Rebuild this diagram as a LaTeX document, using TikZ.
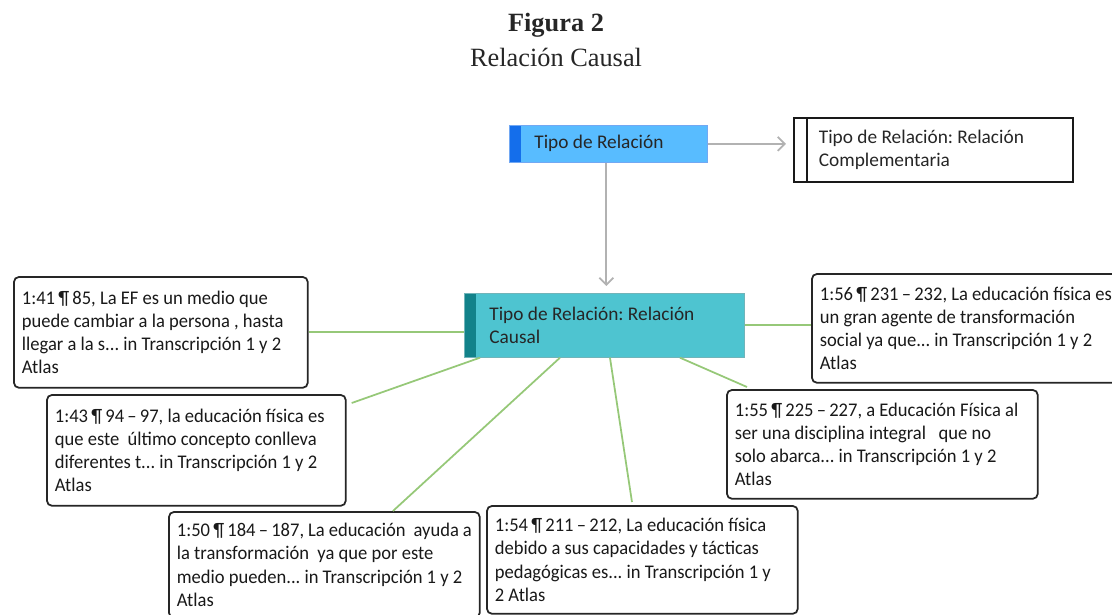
\documentclass[tikz,border=0pt]{standalone}
\usepackage{fontspec}
\setmainfont{Carlito}
\newfontfamily\quotefont{Carlito}[FakeStretch=0.96]
\newfontfamily\titlefont{Liberation Serif}
\usetikzlibrary{arrows.meta}
\frenchspacing
\newcommand\pil{\,¶\,}
\newcommand\dsh{\,–\,}
\definecolor{relblue}{RGB}{88,188,255}
\definecolor{relstrip}{RGB}{20,110,235}
\definecolor{causalfill}{RGB}{78,196,208}
\definecolor{causalstrip}{RGB}{18,130,138}
\definecolor{linkgreen}{RGB}{150,200,120}
\tikzset{
  quote/.style={draw=black!85,line width=1pt,rounded corners=3pt,fill=white,
    anchor=north west,align=flush left,inner xsep=0.16cm,text width=#1,
    font=\quotefont\fontsize{11}{13.2}\selectfont,text=black!90},
  head/.style={anchor=north west,align=flush left,inner xsep=0.5cm,text width=#1,
    font=\fontsize{11}{13.2}\selectfont,text=black!85},
  link/.style={linkgreen,line width=1pt},
  flow/.style={black!30,line width=1pt,-{Straight Barb[length=4pt,width=8pt]}}
}
\begin{document}
\begin{tikzpicture}[x=0.02cm,y=-0.02cm]
  \useasboundingbox (0,0) rectangle (1112,615);
  \node [font=\titlefont\fontsize{15}{18}\selectfont\bfseries,text=black!85] (fig) at (556,25) {Figura 2};
  \node [font=\titlefont\fontsize{15}{18}\selectfont,text=black!85] (title) at (556,57) {Relación Causal};

  \node [head=2.96cm,fill=relblue,draw=relstrip!60,minimum height=0.74cm,
    path picture={\fill[relstrip] (path picture bounding box.north west) rectangle ([xshift=0.24cm]path picture bounding box.south west);}]
    (rel) at (509,125) {Tipo de Relación};
  \node [head=4.58cm,draw=black!90,line width=1pt,minimum height=1.28cm,
    path picture={\draw[black!90,line width=1pt] ([xshift=0.26cm]path picture bounding box.north west) -- ([xshift=0.26cm]path picture bounding box.south west);}]
    (comp) at (793,117) {Tipo de Relación: Relación\\Complementaria};
  \node [head=4.6cm,fill=causalfill,draw=causalstrip!60,minimum height=1.28cm,
    path picture={\fill[causalstrip] (path picture bounding box.north west) rectangle ([xshift=0.24cm]path picture bounding box.south west);}]
    (causal) at (464,293) {Tipo de Relación: Relación\\Causal};

  \node [quote=5.56cm,minimum height=2.22cm] (q41) at (13,276)
    {1:41\pil 85, La EF es un medio que\\puede cambiar a la persona , hasta\\llegar a la s... in Transcripción 1 y 2\\Atlas};
  \node [quote=5.66cm,minimum height=2.22cm] (q43) at (46,394)
    {1:43\pil 94\dsh 97, la educación física es\\que este\ \ último concepto conlleva\\diferentes t... in Transcripción 1 y 2\\Atlas};
  \node [quote=5.9cm,minimum height=2.12cm] (q50) at (168,511)
    {1:50\pil 184\dsh 187, La educación\ \ ayuda a\\la transformación\ \ ya que por este\\medio pueden... in Transcripción 1 y 2\\Atlas};
  \node [quote=5.9cm,minimum height=2.16cm] (q54) at (486,505)
    {1:54\pil 211\dsh 212, La educación física\\debido a sus capacidades y tácticas\\pedagógicas es... in Transcripción 1 y\\2 Atlas};
  \node [quote=5.9cm,minimum height=2.18cm] (q55) at (726,389)
    {1:55\pil 225\dsh 227, a Educación Física al\\ser una disciplina integral\ \ \ que no\\solo abarca... in Transcripción 1 y 2\\Atlas};
  \node [quote=6.3cm,minimum height=2.18cm] (q56) at (811,273)
    {1:56\pil 231\dsh 232, La educación física es\\un gran agente de transformación\\social ya que... in Transcripción 1 y 2\\Atlas};

  \draw [flow,shorten >=4pt] (rel.east) -- (rel.east -| comp.west);
  \draw [flow,shorten >=4pt] ([xshift=-0.04cm]rel.south) -- ([xshift=-0.04cm]rel.south |- causal.north);
  \draw [link] (q41.east) -- (q41.east -| causal.west);
  \draw [link] ([xshift=0.1cm,yshift=-0.18cm]q43.north east) -- ([xshift=0.32cm]causal.south west);
  \draw [link] ([xshift=4.5cm]q50.north west) -- ([xshift=1.92cm]causal.south west);
  \draw [link] ([xshift=2.92cm,yshift=0.06cm]q54.north west) -- ([xshift=2.92cm]causal.south west);
  \draw [link] ([xshift=0.42cm,yshift=0.04cm]q55.north west) -- ([xshift=4.32cm]causal.south west);
  \draw [link] (causal.east) -- (causal.east -| q56.west);
\end{tikzpicture}
\end{document}
